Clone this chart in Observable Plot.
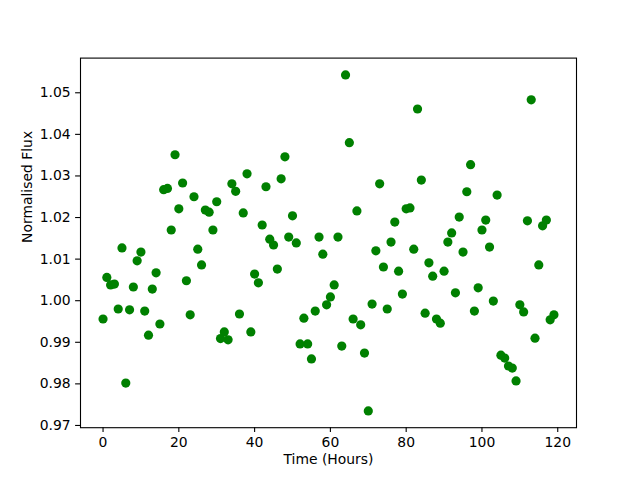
<!DOCTYPE html>
<html>
<head>
<meta charset="utf-8">
<script src="https://cdn.jsdelivr.net/npm/d3@7"></script>
<script src="https://cdn.jsdelivr.net/npm/@observablehq/plot@0.6"></script>
<style>
  html, body { margin: 0; padding: 0; background: white; }
</style>
</head>
<body>
<div id="chart"></div>
<script>
const hours = [0,1,2,3,4,5,6,7,8,9,10,11,12,13,14,15,16,17,18,19,20,21,22,23,24,25,26,27,28,29,
  30,31,32,33,34,35,36,37,38,39,40,41,42,43,44,45,46,47,48,49,50,51,52,53,54,55,56,57,58,59,
  60,61,62,63,64,65,66,67,68,69,70,71,72,73,74,75,76,77,78,79,80,81,82,83,84,85,86,87,88,89,
  90,91,92,93,94,95,96,97,98,99,100,101,102,103,104,105,106,107,108,109,110,111,112,113,114,115,116,117,118,119];

const flux = [
  0.9956, 1.0056, 1.0038, 1.0040, 0.9980, 1.0127, 0.9802, 0.9978, 1.0033, 1.0096,
  1.0117, 0.9975, 0.9917, 1.0028, 1.0067, 0.9944, 1.0267, 1.0270, 1.0170, 1.0351,
  1.0221, 1.0283, 1.0048, 0.9966, 1.0250, 1.0124, 1.0086, 1.0218, 1.0213, 1.0170,
  1.0238, 0.9909, 0.9925, 0.9906, 1.0281, 1.0263, 0.9968, 1.0211, 1.0305, 0.9925,
  1.0064, 1.0043, 1.0182, 1.0274, 1.0148, 1.0134, 1.0076, 1.0293, 1.0346, 1.0153,
  1.0204, 1.0139, 0.9896, 0.9958, 0.9896, 0.9860, 0.9975, 1.0153, 1.0112, 0.9990,
  1.0009, 1.0038, 1.0153, 0.9891, 1.0543, 1.0380, 0.9956, 1.0216, 0.9942, 0.9874,
  0.9735, 0.9992, 1.0120, 1.0281, 1.0081, 0.9980, 1.0141, 1.0189, 1.0071, 1.0016,
  1.0221, 1.0223, 1.0124, 1.0461, 1.0290, 0.9970, 1.0091, 1.0059, 0.9956, 0.9946,
  1.0071, 1.0141, 1.0163, 1.0019, 1.0201, 1.0117, 1.0262, 1.0327, 0.9975, 1.0031,
  1.0170, 1.0194, 1.0129, 0.9999, 1.0254, 0.9869, 0.9862, 0.9843, 0.9838, 0.9807,
  0.9990, 0.9973, 1.0192, 1.0483, 0.9910, 1.0086, 1.0180, 1.0194, 0.9954, 0.9966
];

const xTicks = [0, 20, 40, 60, 80, 100, 120];
const yTicks = [0.97, 0.98, 0.99, 1.00, 1.01, 1.02, 1.03, 1.04, 1.05];
const xLabel = "Time (Hours)";
const yLabel = "Normalised Flux";

const data = hours.map((h, i) => ({hour: h, flux: flux[i]}));

// matplotlib-style 5% margins around the data
const xMin = d3.min(hours), xMax = d3.max(hours);
const yMin = d3.min(flux), yMax = d3.max(flux);
const xPad = (xMax - xMin) * 0.05, yPad = (yMax - yMin) * 0.05;

const FS = 13.9;
const chart = Plot.plot({
  width: 640,
  height: 480,
  marginLeft: 80,
  marginRight: 64,
  marginTop: 57.6,
  marginBottom: 52.8,
  style: {fontFamily: "DejaVu Sans", fontSize: FS + "px", color: "black", background: "white"},
  x: {domain: [xMin - xPad, xMax + xPad]},
  y: {domain: [yMin - yPad, yMax + yPad]},
  marks: [
    Plot.dot(data, {x: "hour", y: "flux", r: 4.6, fill: "green", stroke: "none"}),
    Plot.frame({stroke: "black", strokeWidth: 1.1}),
    Plot.axisX({ticks: xTicks, tickSize: 4.9, tickPadding: 4.9, strokeWidth: 1.1, label: null,
      fontSize: FS, tickFormat: d3.format("d")}),
    Plot.axisY({ticks: yTicks, tickSize: 4.9, tickPadding: 4.9, strokeWidth: 1.1, label: null,
      fontSize: FS, tickFormat: d3.format(".2f")}),
    Plot.text([xLabel], {frameAnchor: "bottom", dy: 36, text: d => d, fontSize: FS, fill: "black"}),
    Plot.text([yLabel], {frameAnchor: "left", dx: -53, rotate: -90, text: d => d, fontSize: FS, fill: "black"})
  ]
});
document.getElementById("chart").appendChild(chart);
</script>
</body>
</html>
